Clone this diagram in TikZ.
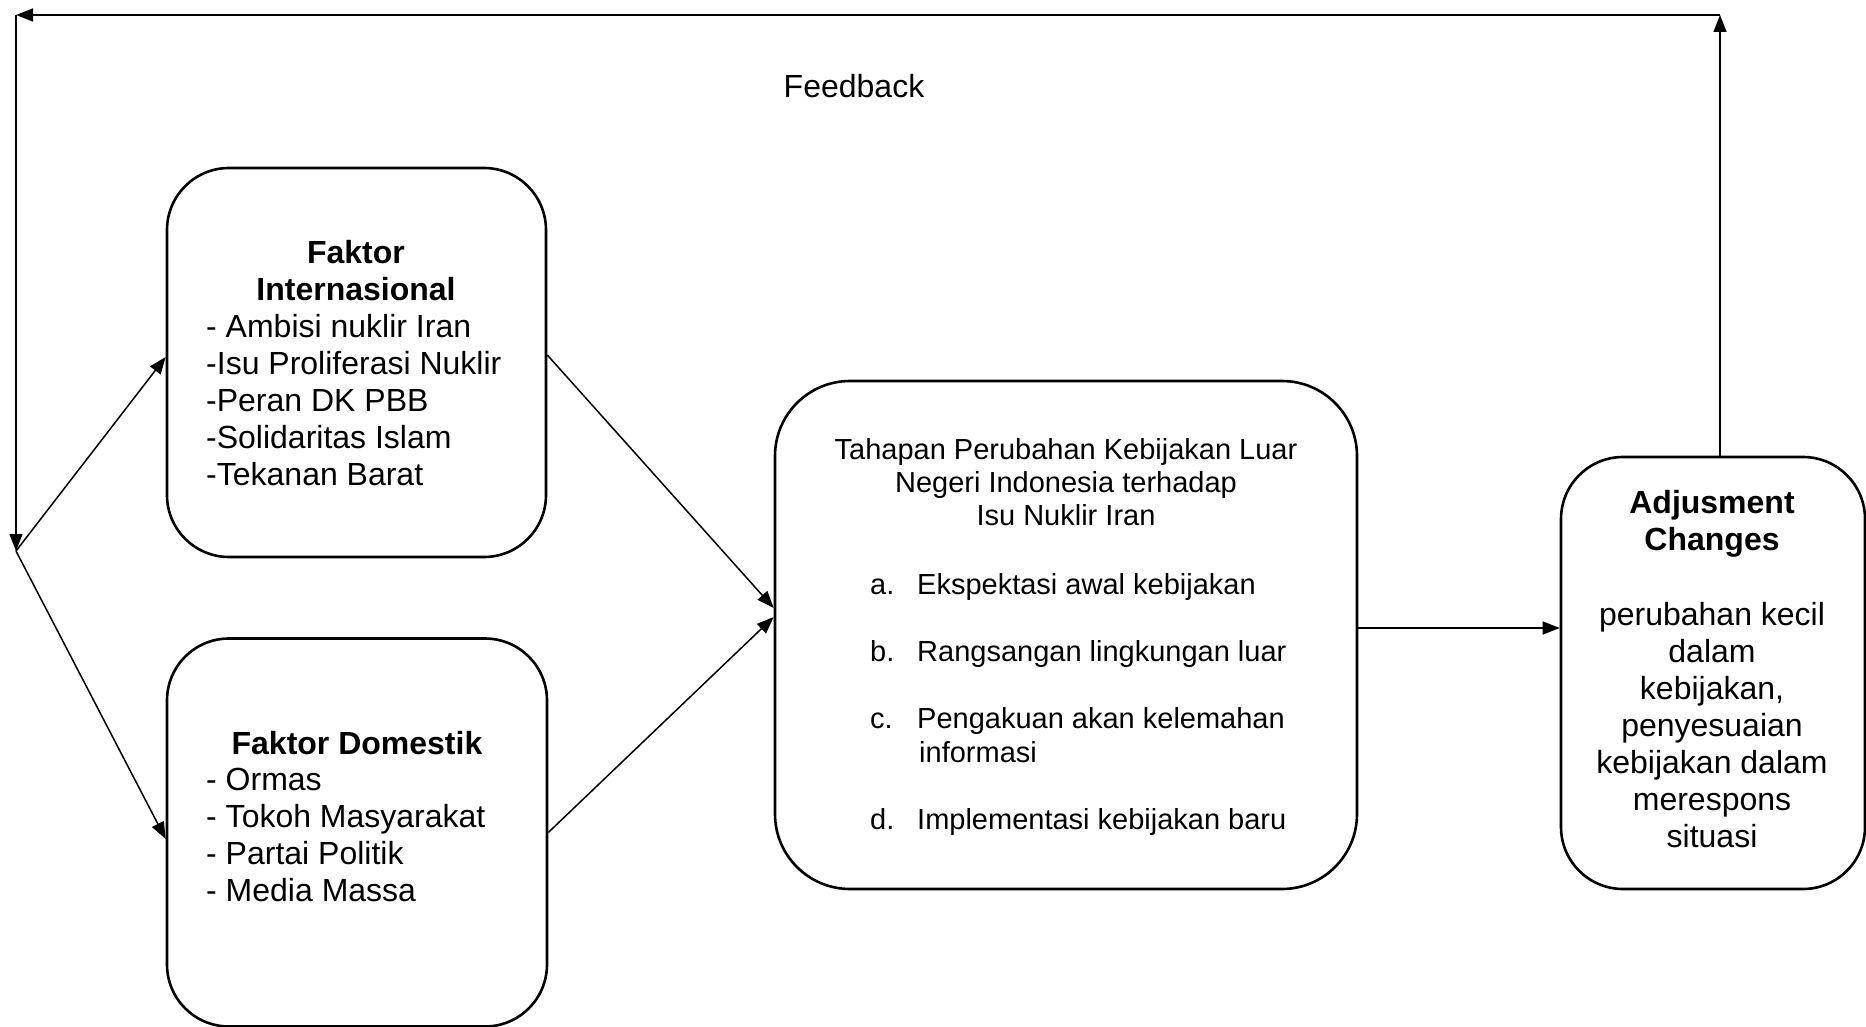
\documentclass[tikz,border=0pt]{standalone}
\usepackage{fontspec}
\setmainfont{Liberation Sans}
\usetikzlibrary{arrows.meta}
\begin{document}
\begin{tikzpicture}[x=1pt,y=-1pt,
  box/.style={draw, line width=2.6pt, rounded corners=62pt, inner sep=0pt},
  conn/.style={line width=1.5pt, -{Triangle[length=17pt,width=13pt]}},
  big/.style={font=\fontsize{32}{37}\selectfont, inner sep=0pt},
  bigb/.style={font=\fontsize{32}{37}\selectfont\bfseries, inner sep=0pt},
  small/.style={font=\fontsize{29}{33}\selectfont, inner sep=0pt}]
\useasboundingbox (0,0) rectangle (1866,1027);

% boxes
\node[box, minimum width=379pt, minimum height=389pt] (intl) at (356.5,362.5) {};
\node[box, minimum width=380pt, minimum height=388pt] (dom) at (357,832.5) {};
\node[box, minimum width=582pt, minimum height=508pt, rounded corners=75pt] (stage) at (1066,635) {};
\node[box, minimum width=304pt, minimum height=432pt] (adj) at (1713,673) {};

% feedback loop
\coordinate (fbR) at (1720,15);
\coordinate (fbL) at (16,15);
\coordinate (split) at (16,551);
\draw[conn] (fbR |- adj.north) -- (fbR);
\draw[conn] (fbR) -- (fbL);
\draw[conn] (fbL) -- (split);
\draw[conn] (split) -- ([yshift=5.5pt]intl.west);
\draw[conn] (split) -- ([yshift=-6.5pt]dom.west);
\node[big] (fbtxt) at (854,86) {Feedback};

% factors into the stages box
\draw[conn] ([yshift=7.5pt]intl.east) -- ([yshift=27pt]stage.west);
\draw[conn] (dom.east) -- ([yshift=18pt]stage.west);
\draw[conn] ([yshift=7pt]stage.east) -- ([yshift=7pt]stage.east -| adj.west);

% international factors
\node[bigb, anchor=base] (i1) at (356,263.5) {Faktor};
\node[bigb, anchor=base] (i2) at (356,300.5) {Internasional};
\node[big, anchor=base west] (i3) at (206,337) {- Ambisi nuklir Iran};
\node[big, anchor=base west] (i4) at (206,374) {-Isu Proliferasi Nuklir};
\node[big, anchor=base west] (i5) at (206,411) {-Peran DK PBB};
\node[big, anchor=base west] (i6) at (206,448) {-Solidaritas Islam};
\node[big, anchor=base west] (i7) at (206,485) {-Tekanan Barat};

% domestic factors
\node[bigb, anchor=base] (d1) at (357,754.5) {Faktor Domestik};
\node[big, anchor=base west] (d2) at (206,790) {- Ormas};
\node[big, anchor=base west] (d3) at (206,827) {- Tokoh Masyarakat};
\node[big, anchor=base west] (d4) at (206,864) {- Partai Politik};
\node[big, anchor=base west] (d5) at (206,901) {- Media Massa};

% stages of policy change
\node[small, anchor=base] (s1) at (1066,459.5) {Tahapan Perubahan Kebijakan Luar};
\node[small, anchor=base] (s2) at (1066,492.5) {Negeri Indonesia terhadap};
\node[small, anchor=base] (s3) at (1066,525.5) {Isu Nuklir Iran};
\node[small, anchor=base west] (la) at (870,594.5) {a.};
\node[small, anchor=base west] (ta) at (917,594.5) {Ekspektasi awal kebijakan};
\node[small, anchor=base west] (lb) at (870,661.5) {b.};
\node[small, anchor=base west] (tb) at (917,661.5) {Rangsangan lingkungan luar};
\node[small, anchor=base west] (lc) at (870,728.5) {c.};
\node[small, anchor=base west] (tc) at (917,728.5) {Pengakuan akan kelemahan};
\node[small, anchor=base west] (tc2) at (919,762.5) {informasi};
\node[small, anchor=base west] (ld) at (870,829.5) {d.};
\node[small, anchor=base west] (td) at (917,829.5) {Implementasi kebijakan baru};

% adjustment changes
\node[bigb, anchor=base] (a1) at (1712,513.5) {Adjusment};
\node[bigb, anchor=base] (a2) at (1712,550.5) {Changes};
\node[big, anchor=base] (a3) at (1712,625) {perubahan kecil};
\node[big, anchor=base] (a4) at (1712,662) {dalam};
\node[big, anchor=base] (a5) at (1712,699) {kebijakan,};
\node[big, anchor=base] (a6) at (1712,736) {penyesuaian};
\node[big, anchor=base] (a7) at (1712,773) {kebijakan dalam};
\node[big, anchor=base] (a8) at (1712,810) {merespons};
\node[big, anchor=base] (a9) at (1712,847) {situasi};
\end{tikzpicture}
\end{document}
